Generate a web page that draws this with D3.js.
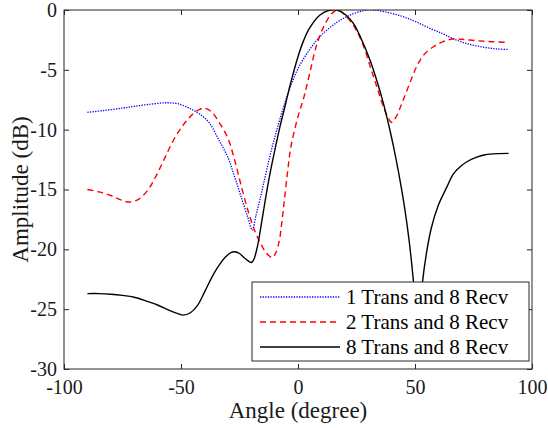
<!DOCTYPE html>
<html>
<head>
<meta charset="utf-8">
<script src="https://cdn.jsdelivr.net/npm/d3@7/dist/d3.min.js"></script>
<style>
  html, body { margin: 0; padding: 0; background: #fff; }
  svg { display: block; }
</style>
</head>
<body>
<svg id="chart" width="548" height="428"></svg>
<script>
// ---------- data ----------
const seriesNames = ["1 Trans and 8 Recv", "2 Trans and 8 Recv", "8 Trans and 8 Recv"];

const angles1 = [-90,-83,-75,-70,-62,-56,-51,-46,-42,-38,-34,-30,-27,-24,-21.5,-19.5,-18,-16,-14,-12,-10,-8,-6,-3,0,5,10,16.5,22,28,32,37,44,50,56,62,66,72,79,85,90];
const amp1 =   [-8.55,-8.4,-8.2,-8.05,-7.85,-7.75,-7.85,-8.25,-8.7,-9.4,-10.8,-12.3,-14.0,-15.8,-17.3,-18.4,-17.2,-15.6,-13.9,-12.2,-10.7,-9.3,-8.0,-6.3,-4.9,-3.3,-2.1,-1.05,-0.45,-0.05,0,-0.15,-0.5,-0.95,-1.5,-2.0,-2.37,-2.8,-3.1,-3.25,-3.3];

const angles2 = [-90,-85,-80,-76,-72,-68,-64,-61,-57,-53,-49,-45,-42,-40,-37,-34,-30,-27,-24,-21,-18,-16,-14,-12,-11,-9.5,-8,-7,-6,-4.5,-3,0,2.5,5,8,12,15,17,20,23,25,28,31,34,36.5,38.5,40,42,45,48,51,54,58,62,66,70,76,83,90];
const amp2 =   [-15.0,-15.2,-15.5,-15.85,-16.05,-15.8,-15.0,-14.0,-12.4,-10.8,-9.6,-8.7,-8.3,-8.2,-8.5,-9.3,-10.7,-12.6,-14.9,-17.0,-18.7,-19.5,-20.2,-20.6,-20.7,-20.3,-19.3,-17.9,-16.2,-13.6,-11.4,-8.9,-7.3,-5.3,-2.9,-1.0,-0.2,0,-0.4,-1.1,-1.7,-3.0,-4.8,-6.6,-8.1,-9.0,-9.4,-8.9,-7.5,-6.0,-4.6,-3.7,-3.05,-2.65,-2.42,-2.45,-2.56,-2.65,-2.7];

const angles3 = [-90,-85,-80,-75,-70,-65,-60,-55,-51,-49,-46,-43,-40,-37,-34,-31,-28.5,-27,-25,-23,-21,-20,-19,-17.5,-16,-14,-12,-10,-7.7,-5.5,-3.4,0,2.3,5,9.4,13,16.5,20,23.6,27,30.8,34,36.5,39,40.8,43,45.7,47.5,49.3,50.5,51.3,52.2,53.3,55,57,60,63.6,66.4,69.3,72,76.4,80,85,90];
const amp3 =   [-23.7,-23.7,-23.75,-23.85,-24.0,-24.3,-24.65,-25.1,-25.4,-25.5,-25.3,-24.7,-23.6,-22.4,-21.4,-20.65,-20.25,-20.2,-20.35,-20.7,-21.0,-21.1,-20.9,-19.9,-18.3,-15.9,-13.7,-11.8,-9.75,-8.0,-6.3,-3.9,-2.6,-1.5,-0.42,-0.05,0,-0.35,-1.1,-2.4,-4.2,-6.1,-7.8,-9.8,-11.4,-13.6,-16.7,-19.3,-22.6,-25.5,-28,-25.5,-22.6,-20.2,-18.2,-16.3,-14.8,-13.7,-13.1,-12.7,-12.3,-12.1,-12.0,-11.98];

const xTicks = [-100,-50,0,50,100];
const yTicks = [-30,-25,-20,-15,-10,-5,0];

// ---------- layout ----------
const L = 64, T = 10, R = 532, B = 369;
const axisColor = "#262626";
const FONT = '"Liberation Serif"';
const svg = d3.select("#chart");

const x = d3.scaleLinear().domain([-100, 100]).range([L, R]);
const y = d3.scaleLinear().domain([-30, 0]).range([B, T]);

svg.append("defs").append("clipPath").attr("id", "clip")
  .append("rect").attr("x", L).attr("y", T).attr("width", R - L).attr("height", B - T);

svg.append("rect").attr("x", L).attr("y", T).attr("width", R - L).attr("height", B - T).attr("fill", "#fff");

// ---------- lines ----------
const series = [
  { xs: angles1, ys: amp1, color: "#0000ff", width: 1.3, dash: "1.3,1.3" },
  { xs: angles2, ys: amp2, color: "#ff0000", width: 1.4, dash: "6,4" },
  { xs: angles3, ys: amp3, color: "#000000", width: 1.4, dash: null }
];

const line = d3.line()
  .x(d => x(d[0]))
  .y(d => y(d[1]))
  .curve(d3.curveCatmullRom.alpha(0.5));

const gLines = svg.append("g").attr("clip-path", "url(#clip)");
series.forEach(s => {
  const pts = s.xs.map((a, i) => [a, s.ys[i]]);
  gLines.append("path")
    .datum(pts)
    .attr("d", line)
    .attr("fill", "none")
    .attr("stroke", s.color)
    .attr("stroke-width", s.width)
    .attr("stroke-dasharray", s.dash);
});

// ---------- axes ----------
function styleAxis(g) {
  g.select(".domain").remove();
  g.selectAll(".tick line").attr("stroke", axisColor).attr("stroke-width", 1);
  g.selectAll(".tick text")
    .attr("fill", "#1a1a1a")
    .style("font-family", FONT)
    .style("font-size", "20px");
}

const fmt = d => String(d);

svg.append("g").attr("transform", `translate(0,${B})`)
  .call(d3.axisBottom(x).tickValues(xTicks).tickSizeInner(-5).tickSizeOuter(0).tickPadding(11).tickFormat(fmt))
  .call(styleAxis);

svg.append("g").attr("transform", `translate(0,${T})`)
  .call(d3.axisTop(x).tickValues(xTicks).tickSizeInner(-5).tickSizeOuter(0).tickFormat(""))
  .call(styleAxis);

svg.append("g").attr("transform", `translate(${L},0)`)
  .call(d3.axisLeft(y).tickValues(yTicks).tickSizeInner(-5).tickSizeOuter(0).tickPadding(7).tickFormat(fmt))
  .call(styleAxis);

svg.append("g").attr("transform", `translate(${R},0)`)
  .call(d3.axisRight(y).tickValues(yTicks).tickSizeInner(-5).tickSizeOuter(0).tickFormat(""))
  .call(styleAxis);

svg.append("rect").attr("x", L).attr("y", T).attr("width", R - L).attr("height", B - T)
  .attr("fill", "none").attr("stroke", axisColor).attr("stroke-width", 1);

// axis labels
svg.append("text")
  .attr("x", (L + R) / 2).attr("y", 418)
  .attr("text-anchor", "middle")
  .attr("fill", "#1a1a1a")
  .style("font-family", FONT).style("font-size", "23px")
  .text("Angle (degree)");

svg.append("text")
  .attr("transform", `translate(28,${(T + B) / 2}) rotate(-90)`)
  .attr("text-anchor", "middle")
  .attr("fill", "#1a1a1a")
  .style("font-family", FONT).style("font-size", "23px")
  .text("Amplitude (dB)");

// ---------- legend ----------
const lg = svg.append("g");
lg.append("rect").attr("x", 252).attr("y", 282).attr("width", 277).attr("height", 79)
  .attr("fill", "#fff").attr("stroke", axisColor).attr("stroke-width", 1);
const rowY = [297, 322, 347];
series.forEach((s, i) => {
  lg.append("line")
    .attr("x1", 260).attr("x2", 340).attr("y1", rowY[i]).attr("y2", rowY[i])
    .attr("stroke", s.color).attr("stroke-width", s.width).attr("stroke-dasharray", s.dash);
  lg.append("text")
    .attr("x", 346).attr("y", rowY[i]).attr("dy", "0.33em")
    .attr("fill", "#000")
    .style("font-family", FONT).style("font-size", "21px")
    .text(seriesNames[i]);
});
</script>
</body>
</html>
